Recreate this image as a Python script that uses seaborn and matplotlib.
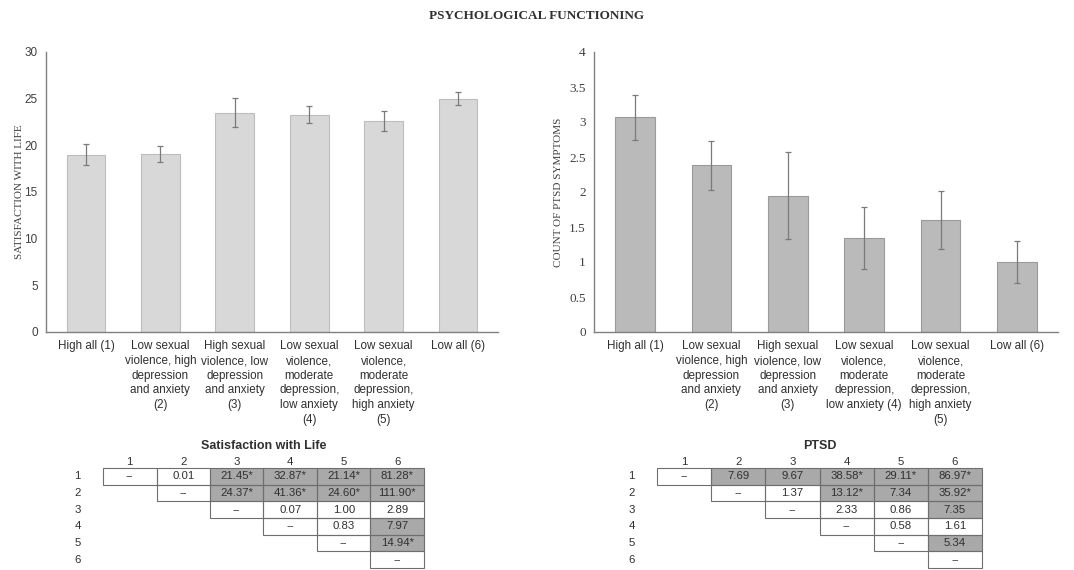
import numpy as np
import pandas as pd
import seaborn as sns
import matplotlib as mpl
import matplotlib.pyplot as plt
from matplotlib.colors import ListedColormap
from matplotlib.patches import Rectangle

# ---- data ----
groups = ["1", "2", "3", "4", "5", "6"]
swl_labels = ["High all (1)",
              "Low sexual\nviolence, high\ndepression\nand anxiety\n(2)",
              "High sexual\nviolence, low\ndepression\nand anxiety\n(3)",
              "Low sexual\nviolence,\nmoderate\ndepression,\nlow anxiety\n(4)",
              "Low sexual\nviolence,\nmoderate\ndepression,\nhigh anxiety\n(5)",
              "Low all (6)"]
ptsd_labels = ["High all (1)",
               "Low sexual\nviolence, high\ndepression\nand anxiety\n(2)",
               "High sexual\nviolence, low\ndepression\nand anxiety\n(3)",
               "Low sexual\nviolence,\nmoderate\ndepression,\nlow anxiety (4)",
               "Low sexual\nviolence,\nmoderate\ndepression,\nhigh anxiety\n(5)",
               "Low all (6)"]
swl_mean = [19.0, 19.1, 23.5, 23.3, 22.6, 25.0]
swl_err = [1.1, 0.85, 1.55, 0.95, 1.05, 0.7]
ptsd_mean = [3.07, 2.38, 1.95, 1.34, 1.60, 1.00]
ptsd_err = [0.32, 0.35, 0.62, 0.44, 0.42, 0.30]

# pairwise comparison tables (upper triangle), "" = not shown
swl_table = [["--", "0.01", "21.45*", "32.87*", "21.14*", "81.28*"],
             ["", "--", "24.37*", "41.36*", "24.60*", "111.90*"],
             ["", "", "--", "0.07", "1.00", "2.89"],
             ["", "", "", "--", "0.83", "7.97"],
             ["", "", "", "", "--", "14.94*"],
             ["", "", "", "", "", "--"]]
swl_shade = [[0, 0, 1, 1, 1, 1],
             [0, 0, 1, 1, 1, 1],
             [0, 0, 0, 0, 0, 0],
             [0, 0, 0, 0, 0, 1],
             [0, 0, 0, 0, 0, 1],
             [0, 0, 0, 0, 0, 0]]
ptsd_table = [["--", "7.69", "9.67", "38.58*", "29.11*", "86.97*"],
              ["", "--", "1.37", "13.12*", "7.34", "35.92*"],
              ["", "", "--", "2.33", "0.86", "7.35"],
              ["", "", "", "--", "0.58", "1.61"],
              ["", "", "", "", "--", "5.34"],
              ["", "", "", "", "", "--"]]
ptsd_shade = [[0, 1, 1, 1, 1, 1],
              [0, 0, 0, 1, 1, 1],
              [0, 0, 0, 0, 0, 1],
              [0, 0, 0, 0, 0, 0],
              [0, 0, 0, 0, 0, 1],
              [0, 0, 0, 0, 0, 0]]

sns.set_theme(style="white")
plt.rcParams['font.family'] = ['Liberation Sans', 'DejaVu Sans']
SERIF = ['Liberation Serif', 'DejaVu Serif']
AXIS_GRAY = "#808080"
TEXT = "#303030"

W, H = 1074, 570
fig = plt.figure(figsize=(W / 100, H / 100), dpi=100)


def px_axes(x0, y0, x1, y1):
    return fig.add_axes([x0 / W, 1 - y1 / H, (x1 - x0) / W, (y1 - y0) / H])


def bar_panel(ax, means, errs, labels, color, edge, ylim, step, ylabel, serif_ticks, label_x):
    df = pd.DataFrame({'group': groups, 'value': means})
    sns.barplot(data=df, x='group', y='value', color=color, saturation=1,
                edgecolor=edge, linewidth=0.8, width=0.52, errorbar=None, ax=ax)
    ax.errorbar(x=np.arange(len(means)), y=means, yerr=errs, fmt='none',
                ecolor="#7a7a7a", elinewidth=0.9, capsize=2.5, capthick=0.9)
    ax.set_ylim(*ylim)
    ax.set_yticks(np.arange(ylim[0], ylim[1] + step / 2, step))
    if serif_ticks:
        ax.set_yticklabels(["{:g}".format(v) for v in ax.get_yticks()],
                           family=SERIF, fontsize=9.5, color="#404040")
    else:
        ax.set_yticklabels(["{:g}".format(v) for v in ax.get_yticks()],
                           fontsize=8.5, color="#404040")
    ax.set_xticks(range(len(labels)))
    ax.set_xticklabels(labels, fontsize=8.4, color=TEXT, linespacing=1.3, va='top')
    ax.set_xlabel('')
    ax.set_ylabel(ylabel, family=SERIF, fontsize=8, color="#404040")
    ax.yaxis.set_label_coords(label_x, 0.5)
    ax.tick_params(axis='both', length=0, pad=6)
    for side in ['top', 'right']:
        ax.spines[side].set_visible(False)
    for side in ['left', 'bottom']:
        ax.spines[side].set_color(AXIS_GRAY)
        ax.spines[side].set_linewidth(1.0)


ax1 = px_axes(46, 52, 498, 332)
bar_panel(ax1, swl_mean, swl_err, swl_labels, "#d8d8d8", "#bdbdbd",
          (0, 30), 5, "SATISFACTION WITH LIFE", False, -0.049)

ax2 = px_axes(594, 52, 1058, 332)
bar_panel(ax2, ptsd_mean, ptsd_err, ptsd_labels, "#bababa", "#9a9a9a",
          (0, 4), 0.5, "COUNT OF PTSD SYMPTOMS", True, -0.067)


def table_panel(ax, texts, shade, title):
    annot = np.array(texts, dtype=object)
    vals = np.array(shade, dtype=float)
    mask = annot == ""
    sns.heatmap(vals, mask=mask, annot=annot, fmt="", cbar=False, ax=ax,
                cmap=ListedColormap(["white", "#a9a9a9"]), vmin=0, vmax=1,
                linewidths=0,
                annot_kws={'fontsize': 8.2, 'color': TEXT},
                xticklabels=groups, yticklabels=groups)
    # cell borders only where a value is shown
    for i in range(annot.shape[0]):
        for j in range(annot.shape[1]):
            if not mask[i, j]:
                ax.add_patch(Rectangle((j, i), 1, 1, fill=False,
                                       edgecolor="#6e6e6e", linewidth=0.8,
                                       clip_on=False))
    ax.xaxis.tick_top()
    ax.tick_params(axis='both', length=0, labelsize=8.2, labelcolor=TEXT)
    ax.tick_params(axis='x', pad=1)
    ax.tick_params(axis='y', pad=16, rotation=0)
    ax.set_title(title, fontsize=9, fontweight='bold', color=TEXT, pad=14)


ax3 = px_axes(103, 468, 424, 568)
table_panel(ax3, swl_table, swl_shade, "Satisfaction with Life")

ax4 = px_axes(657, 468, 982, 568)
table_panel(ax4, ptsd_table, ptsd_shade, "PTSD")

fig.text(0.5, 1 - 16 / H, "PSYCHOLOGICAL FUNCTIONING", ha='center', va='center',
         family=SERIF, fontweight='bold', fontsize=9.5, color=TEXT)

fig.savefig("out.png", dpi=100)
